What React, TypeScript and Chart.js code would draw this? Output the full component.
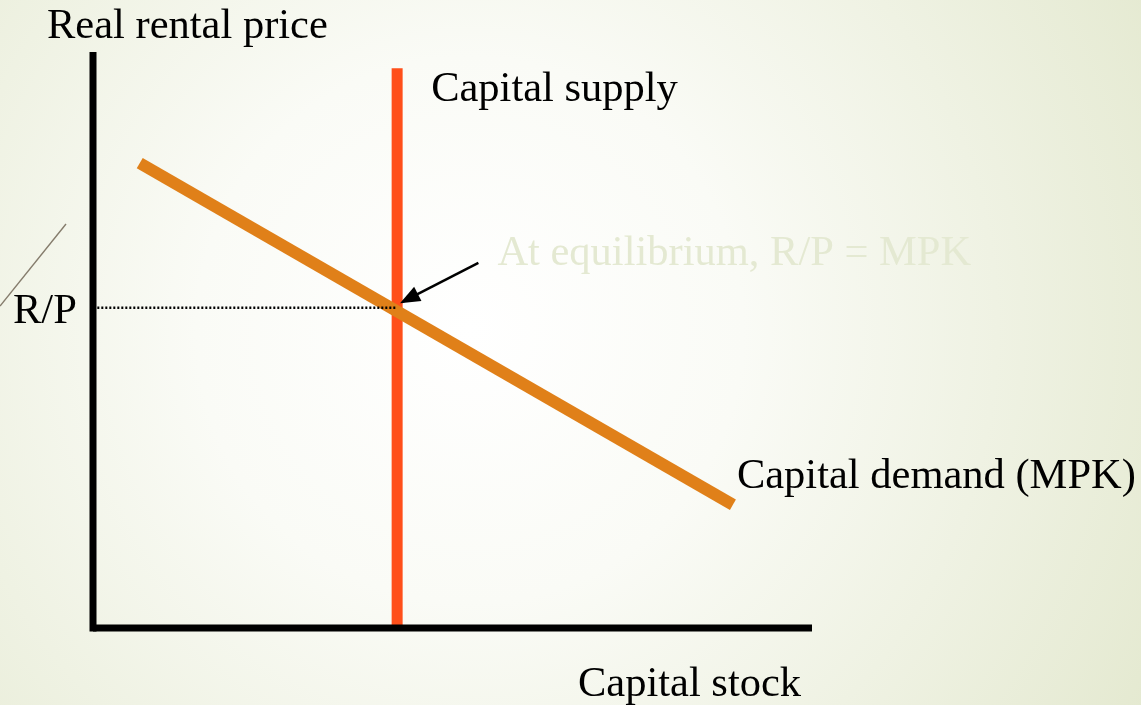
import React, { useEffect, useRef } from "react";
import { Chart, registerables } from "chart.js";

Chart.register(...registerables);

// ---- data (economic units: 0..100 on both axes) ----
const axisXLine = [ { x: 0, y: 0 }, { x: 100, y: 0 } ];
const axisYLine = [ { x: 0, y: -0.6 }, { x: 0, y: 100 } ];
const supplyX = [42.3, 42.3];
const supplyY = [0, 97.2];
const demandX = [6.5, 89.0];
const demandY = [80.7, 21.4];
const equilibriumRP = 55.6;
const rpLineX = [0.6, 42.3];
const arrowX = [53.6, 42.7];
const arrowY = [63.4, 56.4];

const labels = {
  yTitle: "Real rental price",
  xTitle: "Capital stock",
  supply: "Capital supply",
  demand: "Capital demand (MPK)",
  rp: "R/P",
  note: "At equilibrium, R/P = MPK",
};

const FONT = '42.5px "Liberation Serif", "Times New Roman", serif';

const decorPlugin = {
  id: "decor",
  beforeDraw(chart: any) {
    const { ctx, width, height } = chart;
    ctx.save();
    const g = ctx.createRadialGradient(470, 330, 0, 470, 330, 780);
    g.addColorStop(0, "#FFFFFF");
    g.addColorStop(0.35, "#FAFBF6");
    g.addColorStop(1, "#E4E9D0");
    ctx.fillStyle = g;
    ctx.fillRect(0, 0, width, height);
    // slide decoration line
    ctx.strokeStyle = "#857C6C";
    ctx.lineWidth = 1.4;
    ctx.beginPath();
    ctx.moveTo(0, 306);
    ctx.lineTo(66, 224);
    ctx.stroke();
    ctx.restore();
  },
  afterDatasetsDraw(chart: any) {
    const { ctx } = chart;
    const xs = chart.scales.x;
    const ys = chart.scales.y;
    const px = (v: number) => xs.getPixelForValue(v);
    const py = (v: number) => ys.getPixelForValue(v);
    ctx.save();
    // arrow head
    const x0 = px(arrowX[0]), y0 = py(arrowY[0]);
    const x1 = px(arrowX[1]), y1 = py(arrowY[1]);
    const ang = Math.atan2(y1 - y0, x1 - x0);
    const len = 20, half = 8;
    ctx.fillStyle = "#000";
    ctx.beginPath();
    ctx.moveTo(x1, y1);
    ctx.lineTo(x1 - len * Math.cos(ang) + half * Math.sin(ang), y1 - len * Math.sin(ang) - half * Math.cos(ang));
    ctx.lineTo(x1 - len * Math.cos(ang) - half * Math.sin(ang), y1 - len * Math.sin(ang) + half * Math.cos(ang));
    ctx.closePath();
    ctx.fill();

    // texts
    ctx.font = FONT;
    ctx.textBaseline = "alphabetic";
    ctx.textAlign = "left";
    ctx.fillStyle = "#000";
    ctx.fillText(labels.yTitle, px(0) - 46, py(100) - 14);
    ctx.fillText(labels.supply, px(supplyX[0]) + 34, py(supplyY[1]) + 33);
    ctx.fillText(labels.demand, px(demandX[1]) + 4, py(demandY[1]) - 17);
    ctx.fillText(labels.xTitle, px(100) - 234, py(0) + 68);
    ctx.fillText(labels.rp, px(0) - 80, py(equilibriumRP) + 15);
    ctx.fillStyle = "#E4E9D2";
    ctx.fillText(labels.note, px(arrowX[0]) + 19, py(arrowY[0]) + 2);
    ctx.restore();
  },
};

export default function App() {
  const ref = useRef<HTMLCanvasElement | null>(null);
  useEffect(() => {
    if (!ref.current) return;
    const line = (data: any[], color: string, width: number, extra: any = {}) => ({
      type: "line",
      data,
      borderColor: color,
      backgroundColor: color,
      borderWidth: width,
      pointRadius: 0,
      showLine: true,
      fill: false,
      tension: 0,
      clip: false,
      borderCapStyle: "butt",
      ...extra,
    });
    const chart = new Chart(ref.current, {
      type: "scatter",
      data: {
        datasets: [
          line(rpLineX.map((x) => ({ x, y: equilibriumRP })), "#000", 2.5, { borderDash: [2, 2] }),
          line(axisYLine, "#000", 7),
          line(axisXLine, "#000", 7),
          line(demandX.map((x, i) => ({ x, y: demandY[i] })), "#E08019", 12),
          line(supplyX.map((x, i) => ({ x, y: supplyY[i] })), "#FF4F1A", 11),
          line(arrowX.map((x, i) => ({ x, y: arrowY[i] })), "#000", 2.5),
        ] as any,
      },
      options: {
        responsive: false,
        animation: false,
        devicePixelRatio: 1,
        layout: { padding: { left: 93, right: 329, top: 52, bottom: 77 } },
        plugins: { legend: { display: false }, tooltip: { enabled: false } },
        scales: {
          x: { type: "linear", min: 0, max: 100, display: false },
          y: { type: "linear", min: 0, max: 100, display: false },
        },
        events: [],
      } as any,
      plugins: [decorPlugin],
    });
    return () => chart.destroy();
  }, []);
  return (
    <canvas
      ref={ref}
      width={1141}
      height={705}
      style={{ position: "fixed", left: 0, top: 0, width: 1141, height: 705 }}
    />
  );
}
